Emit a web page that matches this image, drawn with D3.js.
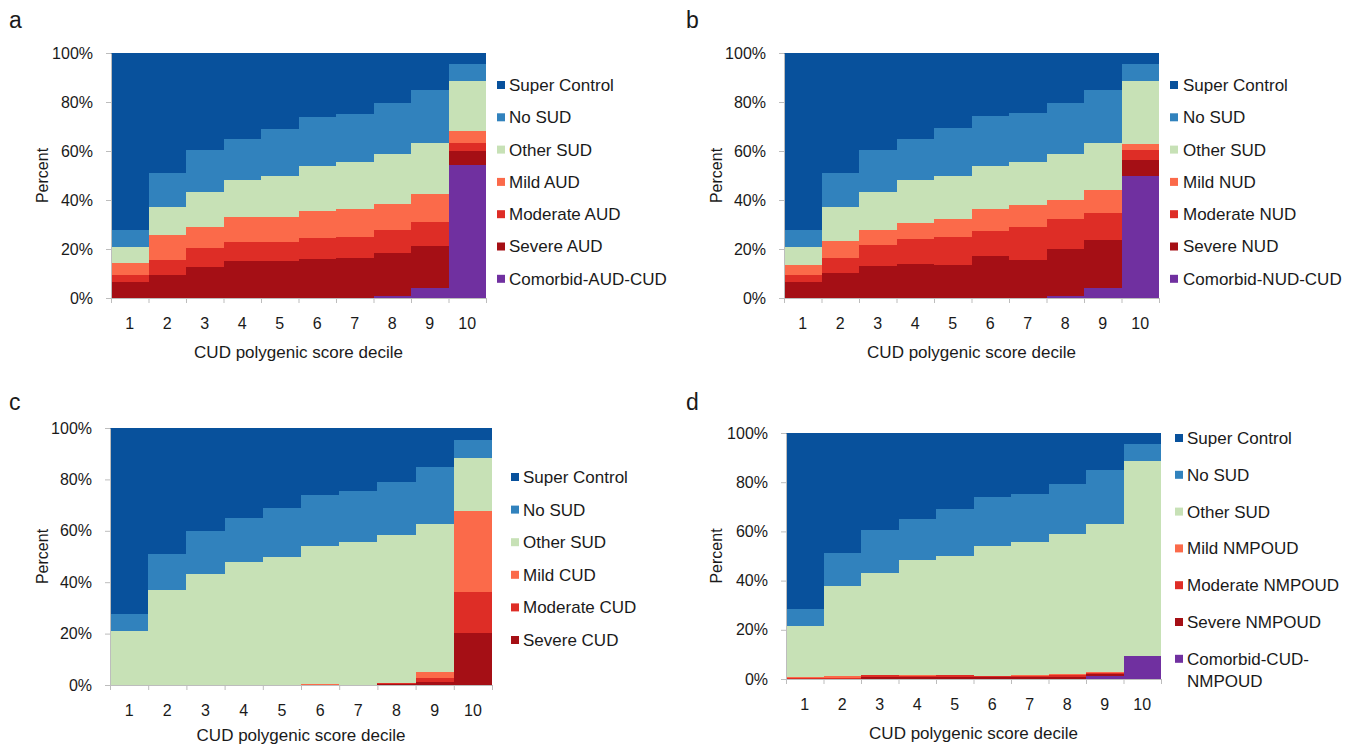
<!DOCTYPE html>
<html>
<head>
<meta charset="utf-8">
<script src="https://cdn.jsdelivr.net/npm/d3@7"></script>
<style>
  html, body { margin: 0; padding: 0; background: #fff; }
  svg { display: block; }
  text { font-family: "Liberation Sans", Arial, sans-serif; fill: #1a1a1a; }
</style>
</head>
<body>
<svg id="chart" width="1360" height="745"></svg>
<script>
// ---------- data ----------
const deciles = ["1", "2", "3", "4", "5", "6", "7", "8", "9", "10"];
const yTicks = [0, 20, 40, 60, 80, 100];
const xTitle = "CUD polygenic score decile";
const yTitle = "Percent";

// Panel a (AUD) – segment percentages per decile
const aComorbid = [0, 0, 0, 0, 0, 0, 0, 1.0, 4.1, 54.1];
const aSevere   = [6.5, 9.2, 12.8, 15.3, 15.3, 16.0, 16.4, 17.3, 17.2, 6.0];
const aModerate = [3.0, 6.4, 7.7, 7.5, 7.5, 8.4, 8.7, 9.4, 9.8, 3.0];
const aMild     = [4.7, 10.0, 8.4, 10.4, 10.2, 11.3, 11.1, 10.7, 11.4, 4.9];
const aOther    = [6.8, 11.7, 14.4, 15.0, 16.9, 18.3, 19.4, 20.2, 20.6, 20.6];
const aNoSUD    = [6.8, 13.9, 17.1, 16.8, 19.2, 20.0, 19.7, 20.8, 22.0, 6.8];
const aSuper    = [72.2, 48.8, 39.6, 35.0, 30.9, 26.0, 24.7, 20.6, 14.9, 4.6];

// Panel b (NUD)
const bComorbid = [0, 0, 0, 0, 0, 0, 0, 0.7, 4.2, 49.9];
const bSevere   = [6.5, 10.2, 13.2, 13.7, 13.4, 17.0, 15.6, 19.5, 19.3, 6.4];
const bModerate = [3.0, 6.2, 8.6, 10.3, 11.4, 10.3, 13.3, 12.0, 11.1, 4.1];
const bMild     = [3.9, 6.8, 5.9, 6.5, 7.6, 9.2, 9.0, 7.8, 9.4, 2.6];
const bOther    = [7.6, 14.1, 15.6, 17.7, 17.5, 17.5, 17.7, 18.6, 19.1, 25.6];
const bNoSUD    = [6.8, 13.9, 17.1, 16.8, 19.3, 20.2, 20.0, 21.0, 22.0, 6.8];
const bSuper    = [72.2, 48.8, 39.6, 35.0, 30.8, 25.8, 24.4, 20.4, 14.9, 4.6];

// Panel c (CUD)
const cSevere   = [0, 0, 0, 0, 0, 0, 0, 0.2, 1.3, 20.3];
const cModerate = [0, 0, 0, 0, 0, 0, 0, 0.5, 1.6, 15.7];
const cMild     = [0, 0, 0, 0, 0, 0.3, 0, 0.1, 2.3, 31.8];
const cOther    = [20.9, 37.0, 43.0, 48.0, 49.7, 53.7, 55.5, 57.5, 57.6, 20.6];
const cNoSUD    = [6.7, 13.8, 17.0, 16.8, 19.1, 19.9, 20.1, 20.8, 21.9, 7.0];
const cSuper    = [72.4, 49.2, 40.0, 35.2, 31.2, 26.1, 24.4, 20.9, 15.3, 4.6];

// Panel d (NMPOUD)
const dComorbid = [0, 0, 0, 0, 0, 0, 0, 0, 1.1, 9.2];
const dSevere   = [0.1, 0.2, 1.0, 0.9, 1.0, 0.8, 0.7, 0.9, 0.8, 0.1];
const dModerate = [0.3, 0.4, 0.5, 0.4, 0.5, 0.4, 0.5, 0.7, 0.7, 0.1];
const dMild     = [0.4, 0.5, 0.3, 0.3, 0.3, 0.2, 0.4, 0.6, 0.4, 0.1];
const dOther    = [20.8, 36.7, 41.4, 46.8, 48.2, 52.8, 54.1, 56.6, 60.2, 79.1];
const dNoSUD    = [6.8, 13.6, 17.3, 16.7, 19.2, 19.9, 19.7, 20.5, 21.7, 6.8];
const dSuper    = [71.6, 48.6, 39.5, 34.9, 30.8, 25.9, 24.6, 20.7, 15.1, 4.6];

// ---------- styles ----------
const colors = {
  comorbid: "#7030a0",
  severe:   "#a50f15",
  moderate: "#de2d26",
  mild:     "#fb6a4a",
  other:    "#c7e1b6",
  nosud:    "#3182bd",
  super:    "#08519c"
};

const panels = [
  {
    letter: "a", lx: 9, ly: 28,
    box: { x0: 111, x1: 486, y0: 53, y1: 298 },
    yLabelX: 42, titleY: 358,
    legend: { sx: 497, tx: 509, y0: 85, dy: 32.3 },
    series: [
      { key: "comorbid", label: ["Comorbid-AUD-CUD"], values: aComorbid },
      { key: "severe", label: ["Severe AUD"], values: aSevere },
      { key: "moderate", label: ["Moderate AUD"], values: aModerate },
      { key: "mild", label: ["Mild AUD"], values: aMild },
      { key: "other", label: ["Other SUD"], values: aOther },
      { key: "nosud", label: ["No SUD"], values: aNoSUD },
      { key: "super", label: ["Super Control"], values: aSuper }
    ]
  },
  {
    letter: "b", lx: 686, ly: 28,
    box: { x0: 784, x1: 1159, y0: 53, y1: 298 },
    yLabelX: 716, titleY: 358,
    legend: { sx: 1170, tx: 1183, y0: 85, dy: 32.3 },
    series: [
      { key: "comorbid", label: ["Comorbid-NUD-CUD"], values: bComorbid },
      { key: "severe", label: ["Severe NUD"], values: bSevere },
      { key: "moderate", label: ["Moderate NUD"], values: bModerate },
      { key: "mild", label: ["Mild NUD"], values: bMild },
      { key: "other", label: ["Other SUD"], values: bOther },
      { key: "nosud", label: ["No SUD"], values: bNoSUD },
      { key: "super", label: ["Super Control"], values: bSuper }
    ]
  },
  {
    letter: "c", lx: 9, ly: 410,
    box: { x0: 110, x1: 492, y0: 428, y1: 685 },
    yLabelX: 42, titleY: 741,
    legend: { sx: 511, tx: 523, y0: 477, dy: 32.6 },
    series: [
      { key: "severe", label: ["Severe CUD"], values: cSevere },
      { key: "moderate", label: ["Moderate CUD"], values: cModerate },
      { key: "mild", label: ["Mild CUD"], values: cMild },
      { key: "other", label: ["Other SUD"], values: cOther },
      { key: "nosud", label: ["No SUD"], values: cNoSUD },
      { key: "super", label: ["Super Control"], values: cSuper }
    ]
  },
  {
    letter: "d", lx: 686, ly: 410,
    box: { x0: 786, x1: 1161, y0: 433, y1: 679 },
    yLabelX: 716, titleY: 739,
    legend: { sx: 1175, tx: 1187, y0: 438, dy: 36.8 },
    series: [
      { key: "comorbid", label: ["Comorbid-CUD-", "NMPOUD"], values: dComorbid },
      { key: "severe", label: ["Severe NMPOUD"], values: dSevere },
      { key: "moderate", label: ["Moderate NMPOUD"], values: dModerate },
      { key: "mild", label: ["Mild NMPOUD"], values: dMild },
      { key: "other", label: ["Other SUD"], values: dOther },
      { key: "nosud", label: ["No SUD"], values: dNoSUD },
      { key: "super", label: ["Super Control"], values: dSuper }
    ]
  }
];

const svg = d3.select("#chart");
const axisColor = "#bdbdbd";

panels.forEach(p => {
  const g = svg.append("g");
  const b = p.box;
  const x = d3.scaleBand().domain(deciles).range([b.x0, b.x1]).paddingInner(0).paddingOuter(0);
  const y = d3.scaleLinear().domain([0, 100]).range([b.y1, b.y0]);

  // build table
  const keys = p.series.map(s => s.key);
  const table = deciles.map((d, i) => {
    const row = { decile: d };
    p.series.forEach(s => { row[s.key] = s.values[i]; });
    return row;
  });
  const stacked = d3.stack().keys(keys)(table);

  const left = d => Math.round(x(d.data.decile));
  const right = d => Math.round(x(d.data.decile) + x.bandwidth());
  const top = d => Math.round(y(Math.min(100, d[1])));
  const bottom = d => Math.round(y(d[0]));

  // bars
  stacked.forEach(layer => {
    g.append("g").attr("shape-rendering", "crispEdges")
      .selectAll("rect").data(layer).join("rect")
      .attr("x", left)
      .attr("width", d => right(d) - left(d))
      .attr("y", top)
      .attr("height", d => Math.max(0, bottom(d) - top(d)))
      .attr("fill", colors[layer.key]);
  });

  // y axis
  const ya = g.append("g").attr("transform", `translate(${b.x0},0)`)
    .call(d3.axisLeft(y).tickValues(yTicks).tickFormat(v => v + "%").tickSize(5).tickPadding(13).tickSizeOuter(0));
  ya.selectAll("path, line").attr("stroke", axisColor);
  ya.selectAll("text").style("font-size", "16px").attr("fill", "#1a1a1a")
    .style("font-family", "'Liberation Sans', Arial, sans-serif");

  // x axis boundary ticks
  const xl = d3.scaleLinear().domain([0, 10]).range([b.x0, b.x1]);
  const xt = g.append("g").attr("transform", `translate(0,${b.y1})`)
    .call(d3.axisBottom(xl).tickValues(d3.range(0, 11)).tickFormat("").tickSize(5).tickSizeOuter(0));
  xt.selectAll("path, line").attr("stroke", axisColor);

  // x axis labels
  const xa = g.append("g").attr("transform", `translate(0,${b.y1})`)
    .call(d3.axisBottom(x).tickSize(0).tickPadding(20));
  xa.select("path").remove();
  xa.selectAll("text").style("font-size", "16px").attr("fill", "#1a1a1a")
    .style("font-family", "'Liberation Sans', Arial, sans-serif");

  // axis titles
  g.append("text")
    .attr("x", (b.x0 + b.x1) / 2).attr("y", p.titleY)
    .attr("text-anchor", "middle").style("font-size", "17px")
    .text(xTitle);
  g.append("text")
    .attr("transform", `translate(${p.yLabelX},${(b.y0 + b.y1) / 2}) rotate(-90)`)
    .attr("text-anchor", "middle").attr("dy", "0.35em").style("font-size", "16px")
    .text(yTitle);

  // panel letter
  g.append("text").attr("x", p.lx).attr("y", p.ly).style("font-size", "23px").text(p.letter);

  // legend (top-down: reverse of stack order)
  const leg = g.append("g");
  const items = p.series.slice().reverse();
  items.forEach((s, i) => {
    const cy = p.legend.y0 + i * p.legend.dy;
    leg.append("rect")
      .attr("x", p.legend.sx).attr("y", cy - 4)
      .attr("width", 8).attr("height", 8)
      .attr("fill", colors[s.key]);
    const t = leg.append("text")
      .attr("x", p.legend.tx).attr("y", cy)
      .attr("dy", "0.35em").style("font-size", "17px");
    s.label.forEach((line, j) => {
      t.append("tspan").attr("x", p.legend.tx).attr("dy", j === 0 ? "0.35em" : "1.3em").text(line);
    });
  });
});
</script>
</body>
</html>
